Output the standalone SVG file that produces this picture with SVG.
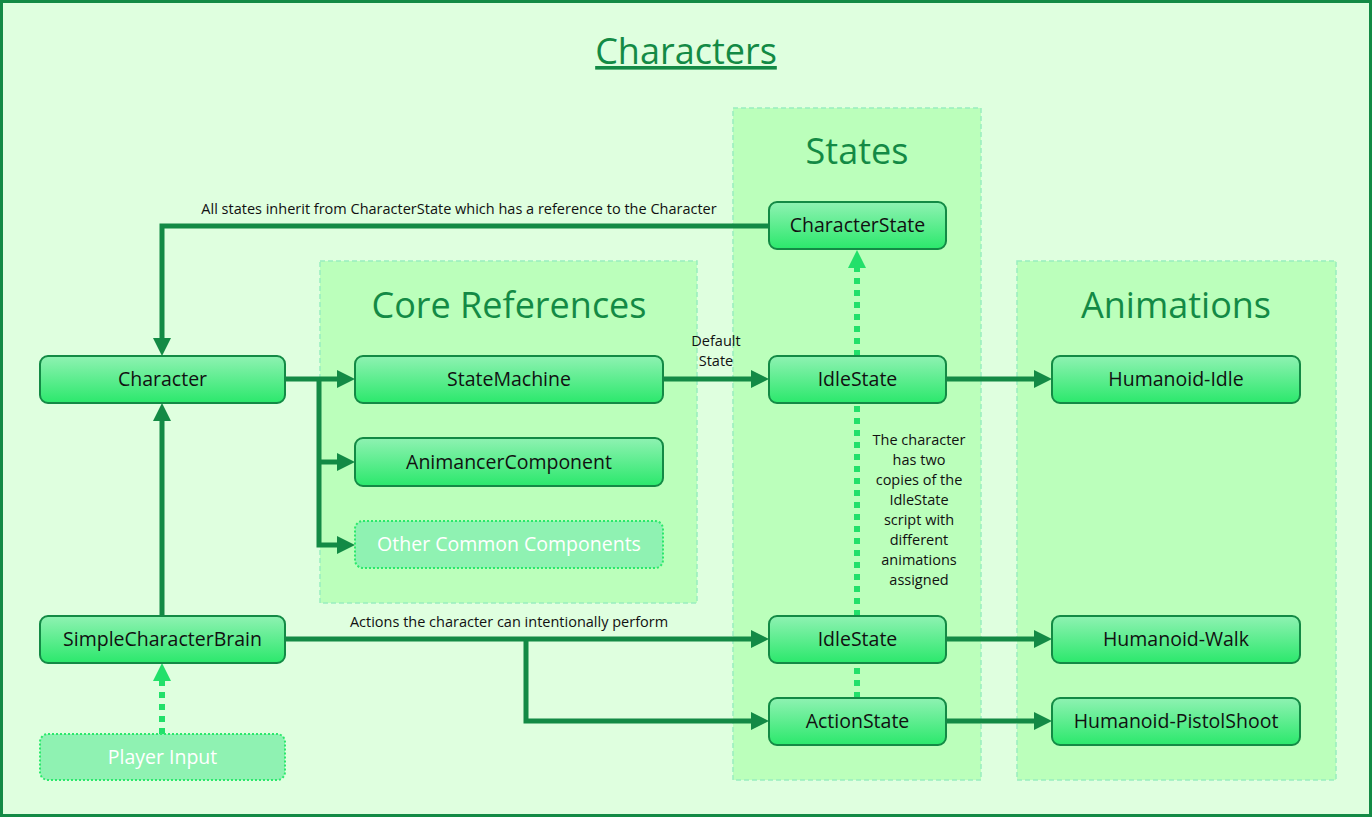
<svg xmlns="http://www.w3.org/2000/svg" width="1372" height="817" viewBox="0 0 1372 817">
<defs>
<linearGradient id="ng" x1="0" y1="0" x2="0" y2="1">
<stop offset="0" stop-color="#8ff2b2"/>
<stop offset="1" stop-color="#2be86c"/>
</linearGradient>
<marker id="ad" markerUnits="userSpaceOnUse" markerWidth="18" markerHeight="18" viewBox="0 0 18 18" refX="0" refY="9" orient="auto">
<path d="M0,0 L18,9 L0,18 Z" fill="#138a45"/>
</marker>
<style>
.node rect{fill:url(#ng);stroke:#138a45;stroke-width:2}
.node text,.lbl{font-family:"Open Sans","Noto Sans",sans-serif;fill:#111;text-anchor:middle}
.node text{font-size:19.5px}
.ghost rect{fill:#8ff2b2;stroke:#2be86c;stroke-width:2;stroke-dasharray:2 2}
.ghost text{fill:#fff}
.cont{fill:#bbffbb;stroke:#99eec0;stroke-width:1.5;stroke-dasharray:5 3}
.ctitle{font-family:"Open Sans","Noto Sans",sans-serif;font-size:36px;fill:#138a45;text-anchor:middle}
.lbl{font-size:14.5px}
.dk{fill:none;stroke:#138a45;stroke-width:5}
.dt{fill:none;stroke:#22e06a;stroke-width:6;stroke-dasharray:6 6}
</style>
</defs>
<rect x="1.5" y="1.5" width="1369" height="814" fill="#dfffdf" stroke="#138a45" stroke-width="3"/>
<text x="686" y="64" class="ctitle" text-decoration="underline">Characters</text>

<g id="core-references">
<rect class="cont" x="320" y="261" width="377" height="342"/>
<text class="ctitle" x="509" y="318">Core References</text>
</g>
<g id="states">
<rect class="cont" x="733" y="108" width="248" height="672"/>
<text class="ctitle" x="857" y="164">States</text>
</g>
<g id="animations">
<rect class="cont" x="1017" y="261" width="319" height="519"/>
<text class="ctitle" x="1176" y="318">Animations</text>
</g>

<g id="connectors">
<path class="dk" d="M769,226 H162 V338" marker-end="url(#ad)"/>
<text class="lbl" x="459" y="214">All states inherit from CharacterState which has a reference to the Character</text>
<path class="dk" d="M285,379 H337" marker-end="url(#ad)"/>
<path class="dk" d="M319,379 V545 H337" marker-end="url(#ad)"/>
<path class="dk" d="M319,462 H337" marker-end="url(#ad)"/>
<path class="dk" d="M663,379 H751" marker-end="url(#ad)"/>
<text class="lbl" x="716" y="346">Default</text>
<text class="lbl" x="716" y="366">State</text>
<path class="dk" d="M946,379 H1034" marker-end="url(#ad)"/>
<path class="dk" d="M946,639 H1034" marker-end="url(#ad)"/>
<path class="dk" d="M946,721 H1034" marker-end="url(#ad)"/>
<path class="dk" d="M162,616 V421" marker-end="url(#ad)"/>
<path class="dk" d="M285,639 H751" marker-end="url(#ad)"/>
<path class="dk" d="M526,639 V721 H751" marker-end="url(#ad)"/>
<text class="lbl" x="509" y="627">Actions the character can intentionally perform</text>
<path class="dt" d="M857,356 V268"/>
<path d="M848,268 L857,250 L866,268 Z" fill="#22e06a"/>
<path class="dt" d="M857,616 V403"/>
<path class="dt" d="M857,698 V663"/>
<path class="dt" d="M162,734 V681"/>
<path d="M153,681 L162,663 L171,681 Z" fill="#22e06a"/>
<text class="lbl" x="919" y="445">The character</text>
<text class="lbl" x="919" y="465">has two</text>
<text class="lbl" x="919" y="485">copies of the</text>
<text class="lbl" x="919" y="505">IdleState</text>
<text class="lbl" x="919" y="525">script with</text>
<text class="lbl" x="919" y="545">different</text>
<text class="lbl" x="919" y="565">animations</text>
<text class="lbl" x="919" y="585">assigned</text>
</g>

<g id="character" class="node"><rect x="40" y="356" width="245" height="47" rx="8"/><text x="162.5" y="386">Character</text></g>
<g id="statemachine" class="node"><rect x="355" y="356" width="308" height="47" rx="8"/><text x="509" y="386">StateMachine</text></g>
<g id="animancercomponent" class="node"><rect x="355" y="438" width="308" height="48" rx="8"/><text x="509" y="469">AnimancerComponent</text></g>
<g id="other-common-components" class="node ghost"><rect x="355" y="521" width="308" height="47" rx="8"/><text x="509" y="551">Other Common Components</text></g>
<g id="characterstate" class="node"><rect x="769" y="202" width="177" height="47" rx="8"/><text x="857.5" y="232">CharacterState</text></g>
<g id="idlestate-1" class="node"><rect x="769" y="356" width="177" height="47" rx="8"/><text x="857.5" y="386">IdleState</text></g>
<g id="idlestate-2" class="node"><rect x="769" y="616" width="177" height="47" rx="8"/><text x="857.5" y="646">IdleState</text></g>
<g id="actionstate" class="node"><rect x="769" y="698" width="177" height="47" rx="8"/><text x="857.5" y="728">ActionState</text></g>
<g id="humanoid-idle" class="node"><rect x="1052" y="356" width="248" height="47" rx="8"/><text x="1176" y="386">Humanoid-Idle</text></g>
<g id="humanoid-walk" class="node"><rect x="1052" y="616" width="248" height="47" rx="8"/><text x="1176" y="646">Humanoid-Walk</text></g>
<g id="humanoid-pistolshoot" class="node"><rect x="1052" y="698" width="248" height="47" rx="8"/><text x="1176" y="728">Humanoid-PistolShoot</text></g>
<g id="simplecharacterbrain" class="node"><rect x="40" y="616" width="245" height="47" rx="8"/><text x="162.5" y="646">SimpleCharacterBrain</text></g>
<g id="player-input" class="node ghost"><rect x="40" y="734" width="245" height="46" rx="8"/><text x="162.5" y="764">Player Input</text></g>
</svg>
